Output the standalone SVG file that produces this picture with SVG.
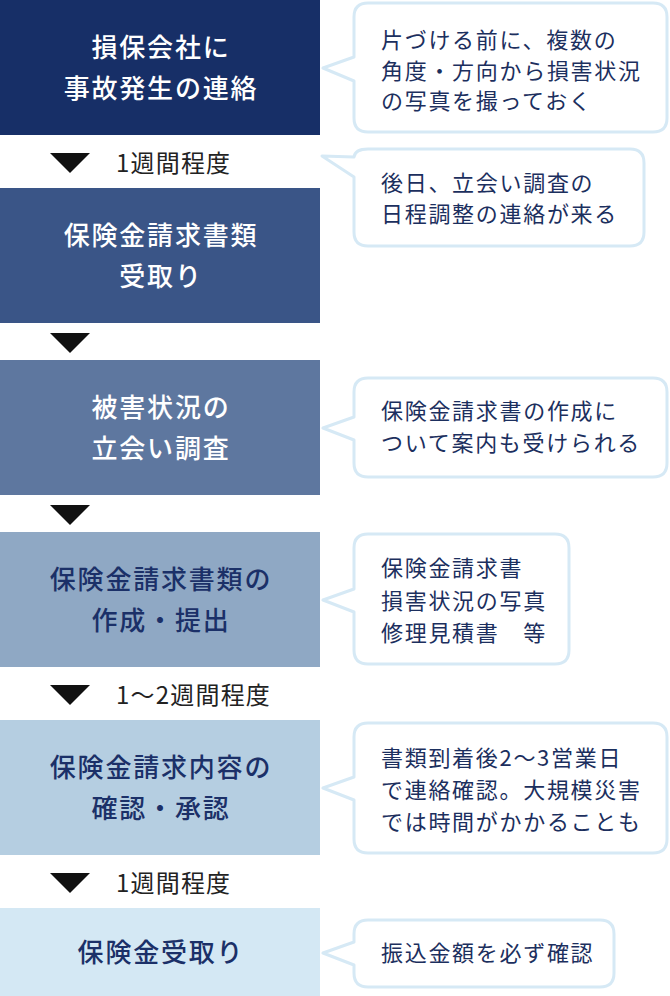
<svg xmlns="http://www.w3.org/2000/svg" width="670" height="996" viewBox="0 0 670 996">
<style>
  text { font-family: "Noto Sans CJK JP", "Noto Sans", sans-serif; }
  .bt { font-size: 26px; font-weight: 500; letter-spacing: 1.8px; text-anchor: middle; }
  .light { fill: #ffffff; }
  .dark { fill: #1b3068; }
  .ct { font-size: 22px; font-weight: 400; letter-spacing: 1.7px; fill: #1c2f5e; }
  .lbl { font-size: 24px; font-weight: 400; letter-spacing: 1.2px; fill: #222222; }
  .bubble { fill: #ffffff; stroke: #d6e9f5; stroke-width: 3; stroke-linejoin: round; }
  .tri { fill: #111111; }
</style>
<rect width="670" height="996" fill="#ffffff"/>

<g id="connectors">
  <polygon class="tri" points="50,153 90,153 70,173"/>
  <text class="lbl" x="116" y="171.5">1週間程度</text>
  <polygon class="tri" points="50,333 90,333 70,353"/>
  <polygon class="tri" points="50,505 90,505 70,525"/>
  <polygon class="tri" points="50,685 90,685 70,705"/>
  <text class="lbl" x="116" y="703.5">1〜2週間程度</text>
  <polygon class="tri" points="50,873 90,873 70,893"/>
  <text class="lbl" x="116" y="891.5">1週間程度</text>
</g>

<g id="step1">
  <rect x="0" y="0" width="320" height="135" fill="#172f67"/>
  <text class="bt light" x="161" y="56.5">損保会社に</text>
  <text class="bt light" x="161" y="97.5">事故発生の連絡</text>
</g>
<g id="step2">
  <rect x="0" y="188" width="320" height="135" fill="#3a5587"/>
  <text class="bt light" x="161" y="244.5">保険金請求書類</text>
  <text class="bt light" x="161" y="285.5">受取り</text>
</g>
<g id="step3">
  <rect x="0" y="360" width="320" height="135" fill="#5e779f"/>
  <text class="bt light" x="161" y="416.5">被害状況の</text>
  <text class="bt light" x="161" y="457.5">立会い調査</text>
</g>
<g id="step4">
  <rect x="0" y="532" width="320" height="135" fill="#8fa8c4"/>
  <text class="bt dark" x="161" y="588.5">保険金請求書類の</text>
  <text class="bt dark" x="161" y="629.5">作成・提出</text>
</g>
<g id="step5">
  <rect x="0" y="720" width="320" height="135" fill="#b5cee1"/>
  <text class="bt dark" x="161" y="776.5">保険金請求内容の</text>
  <text class="bt dark" x="161" y="817.5">確認・承認</text>
</g>
<g id="step6">
  <rect x="0" y="908" width="320" height="88" fill="#d4e8f4"/>
  <text class="bt dark" x="161" y="961.5">保険金受取り</text>
</g>

<g id="note1">
  <path class="bubble" d="M368,3 H653 Q667,3 667,17 V118 Q667,132 653,132 H368 Q354,132 354,118 V81 L323,68 L354,57 V17 Q354,3 368,3 Z"/>
  <text class="ct" x="381" y="48">片づける前に、複数の</text>
  <text class="ct" x="381" y="78.5">角度・方向から損害状況</text>
  <text class="ct" x="381" y="109">の写真を撮っておく</text>
</g>
<g id="note2">
  <path class="bubble" d="M368,149 H630 Q644,149 644,163 V232 Q644,246 630,246 H368 Q354,246 354,232 V177 L322,156 L354,157 Q355,149 368,149 Z"/>
  <text class="ct" x="381" y="191">後日、立会い調査の</text>
  <text class="ct" x="381" y="222">日程調整の連絡が来る</text>
</g>
<g id="note3">
  <path class="bubble" d="M368,378 H653 Q667,378 667,392 V463 Q667,477 653,477 H368 Q354,477 354,463 V440 L323,428 L354,417 V392 Q354,378 368,378 Z"/>
  <text class="ct" x="381" y="419">保険金請求書の作成に</text>
  <text class="ct" x="381" y="451">ついて案内も受けられる</text>
</g>
<g id="note4">
  <path class="bubble" d="M368,534 H555 Q569,534 569,548 V650 Q569,664 555,664 H368 Q354,664 354,650 V612 L323,600 L354,589 V548 Q354,534 368,534 Z"/>
  <text class="ct" x="381" y="576">保険金請求書</text>
  <text class="ct" x="381" y="609">損害状況の写真</text>
  <text class="ct" x="381" y="641">修理見積書　等</text>
</g>
<g id="note5">
  <path class="bubble" d="M368,723 H653 Q667,723 667,737 V839 Q667,853 653,853 H368 Q354,853 354,839 V800 L323,788 L354,777 V737 Q354,723 368,723 Z"/>
  <text class="ct" x="381" y="766">書類到着後2〜3営業日</text>
  <text class="ct" x="381" y="798">で連絡確認。大規模災害</text>
  <text class="ct" x="381" y="830">では時間がかかることも</text>
</g>
<g id="note6">
  <path class="bubble" d="M368,920 H600 Q614,920 614,934 V973 Q614,987 600,987 H368 Q354,987 354,973 V965 L323,953 L354,942 V934 Q354,920 368,920 Z"/>
  <text class="ct" x="381" y="961">振込金額を必ず確認</text>
</g>
</svg>
